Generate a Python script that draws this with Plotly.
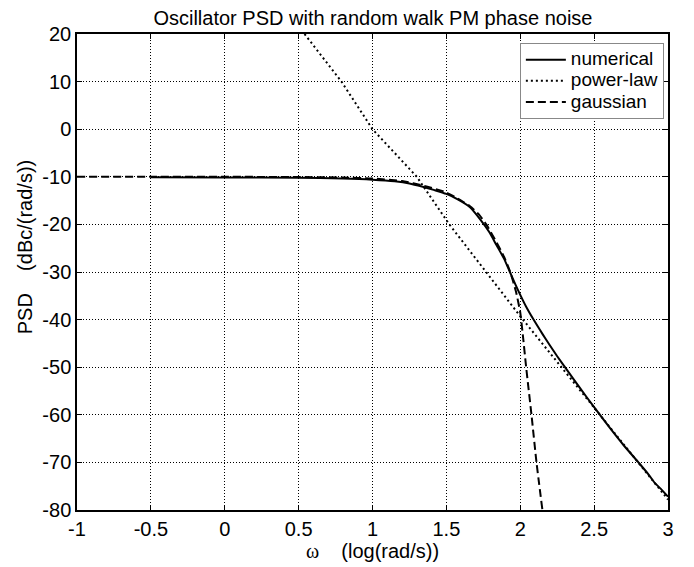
import plotly.graph_objects as go

# numerical (solid)
num_x = [-0.5, 0.0, 0.5, 0.8, 1.0, 1.15, 1.25, 1.34, 1.42, 1.5, 1.58, 1.66, 1.73, 1.79, 1.84, 1.89, 1.93, 1.97, 2.0, 2.04, 2.09, 2.15, 2.2, 2.25, 2.31, 2.4, 2.5, 2.6, 2.7, 2.8, 2.87, 2.91, 2.95, 3.0]
num_y = [-10.1, -10.15, -10.2, -10.35, -10.6, -10.95, -11.4, -12.1, -12.8, -13.6, -14.8, -16.4, -19.0, -21.6, -24.4, -27.2, -30.0, -32.8, -34.8, -37.3, -40.0, -43.0, -45.4, -47.7, -50.3, -54.2, -58.4, -62.5, -66.4, -70.0, -72.6, -74.3, -75.5, -77.2]

# power-law (dotted)
pl_x = [0.54, 0.79, 1.0, 1.3, 1.52, 1.77, 2.0, 2.5, 3.0]
pl_y = [20.0, 10.0, 0.0, -10.0, -20.0, -30.0, -39.3, -58.5, -77.8]

# gaussian (dashed)
ga_x = [-1.0, -0.5, 0.0, 0.5, 0.8, 1.0, 1.2, 1.35, 1.5, 1.6, 1.66, 1.72, 1.77, 1.84, 1.89, 1.93, 1.97, 2.0, 2.02, 2.04, 2.076, 2.11, 2.15]
ga_y = [-10.0, -10.0, -10.0, -10.05, -10.15, -10.35, -10.9, -11.9, -13.3, -15.0, -16.2, -17.9, -20.0, -23.8, -26.8, -29.8, -34.0, -38.5, -44.0, -50.0, -60.0, -70.0, -80.0]

x_ticks = [-1, -0.5, 0, 0.5, 1, 1.5, 2, 2.5, 3]
x_ticktext = ["-1", "-0.5", "0", "0.5", "1", "1.5", "2", "2.5", "3"]
y_ticks = [20, 10, 0, -10, -20, -30, -40, -50, -60, -70, -80]
y_ticktext = ["20", "10", "0", "-10", "-20", "-30", "-40", "-50", "-60", "-70", "-80"]

FONT = "Liberation Sans, Arial, sans-serif"

def leg(name):
    return '<span style="font-size:19px">' + name + '</span>'

fig = go.Figure()
fig.add_trace(go.Scatter(x=num_x, y=num_y, mode="lines", name=leg("numerical"),
                         line=dict(color="black", width=2, shape="spline", smoothing=0.6)))
fig.add_trace(go.Scatter(x=pl_x, y=pl_y, mode="lines", name=leg("power-law"),
                         line=dict(color="black", width=2, dash="2px,3px")))
fig.add_trace(go.Scatter(x=ga_x, y=ga_y, mode="lines", name=leg("gaussian"),
                         line=dict(color="black", width=2, dash="8px,4px", shape="spline", smoothing=0.5)))

axis_common = dict(
    showline=True, linecolor="black", linewidth=1.5, mirror="ticks",
    ticks="inside", ticklen=5, tickwidth=1, tickcolor="black",
    showgrid=True, gridcolor="black", gridwidth=1, griddash="1px,2px",
    zeroline=False, tickfont=dict(family=FONT, size=20, color="black"),
)

fig.update_xaxes(range=[-1, 3], tickvals=x_ticks, ticktext=x_ticktext,
                 title=dict(text="<span style=\"font-family:Liberation Serif\">ω</span>\u00a0\u00a0\u00a0\u00a0(log(rad/s))",
                            font=dict(family=FONT, size=20, color="black"), standoff=2),
                 **axis_common)
fig.update_yaxes(range=[-80, 20], tickvals=y_ticks, ticktext=y_ticktext, **axis_common)

fig.add_annotation(text="PSD\u00a0\u00a0\u00a0\u00a0(dBc/(rad/s))", textangle=-90,
                   xref="paper", yref="paper", x=-0.088, y=0.552,
                   xanchor="center", yanchor="middle", showarrow=False,
                   font=dict(family=FONT, size=20, color="black"))

fig.update_layout(
    width=686, height=559,
    margin=dict(l=69, r=26, t=26, b=57),
    paper_bgcolor="white", plot_bgcolor="white",
    title=dict(text="Oscillator PSD with random walk PM phase noise",
               x=0.532, xanchor="center", y=1.0, yanchor="top", pad=dict(t=3),
               font=dict(family=FONT, size=20, color="black")),
    legend=dict(x=0.993, y=0.981, xanchor="right", yanchor="top",
                bgcolor="white", bordercolor="#888888", borderwidth=1,
                font=dict(family=FONT, size=14, color="black"),
                tracegroupgap=0, itemwidth=40),
    showlegend=True,
)

fig.write_html("out.html")
